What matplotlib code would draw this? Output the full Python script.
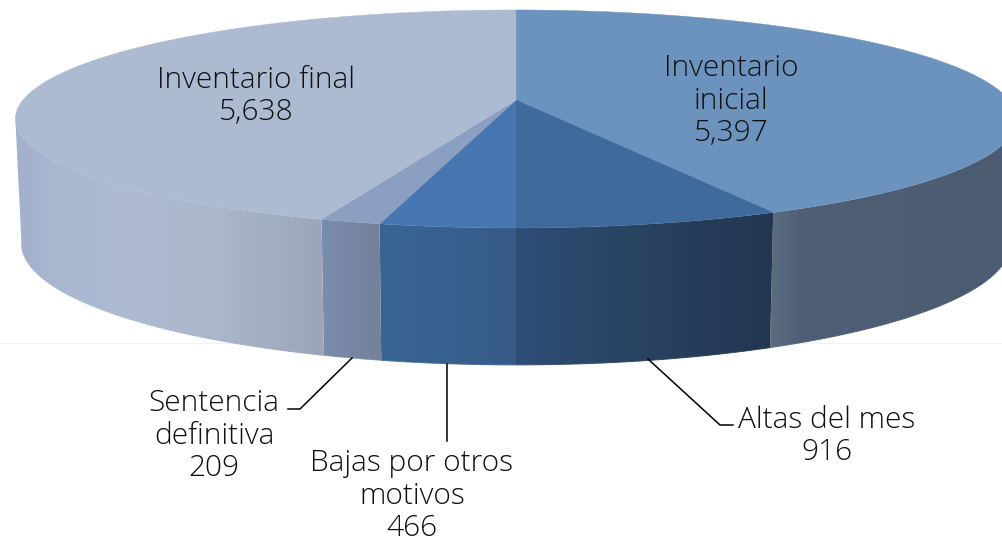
import numpy as np
import matplotlib
matplotlib.use('Agg')
import matplotlib.pyplot as plt
from matplotlib.collections import LineCollection
from matplotlib.colors import to_rgb
from matplotlib.patches import Polygon

categories = ['Inventario inicial', 'Altas del mes', 'Bajas por otros motivos',
              'Sentencia definitiva', 'Inventario final']
values = [5397, 916, 466, 209, 5638]

top_colors = ['#6C93BD', '#3F6A9C', '#4776B0', '#8A9FC1', '#ACBAD2']
# colour stops along x for the side of each slice
side_stops = [
    ([773, 800, 1003], ['#5B6C80', '#4F5F76', '#4B5B72']),
    ([516, 650, 773], ['#2F4E76', '#28425F', '#233650']),
    ([380, 516], ['#3A6593', '#375B89']),
    ([322, 380], ['#7A8DAD', '#748299']),
    ([22, 60, 130, 220, 320], ['#A3B1CC', '#A9B7D1', '#AEBBD3', '#A9B6CB', '#9BA6B8']),
]

# perspective of the disc, in pixels
cx = 516
k = 0.174
top_r, top_s, top_cy = 493, 105.7, 100
bot_r, bot_s, bot_cy = 487, 118, 222


def project(theta, r, s, cy):
    d = 1 + k * np.cos(theta)
    return cx + r * np.sin(theta) / d, cy - s * np.cos(theta) / d


def side_colour(x, stops):
    xs, cols = stops
    rgb = np.array([to_rgb(c) for c in cols])
    return np.stack([np.interp(x, xs, rgb[:, i]) for i in range(3)], axis=-1)


fig = plt.figure(figsize=(10.03, 5.42), dpi=100)
ax = fig.add_axes([0, 0, 1, 1])
ax.axis('off')

# faint line behind the pie
ax.plot([0, 1003], [343, 343], color='#F3F3F3', lw=0.8, zorder=0)

edges = np.cumsum([0] + values) / sum(values) * 2 * np.pi

# side walls, only up to where the outline of the disc turns back
for i in range(len(values)):
    a = max(edges[i], np.radians(100))
    b = min(edges[i + 1], np.radians(260))
    ts = np.linspace(a, b, 150)
    tx, ty = project(ts, top_r, top_s, top_cy)
    bx, by = project(ts, bot_r, bot_s, bot_cy)
    wall = Polygon(np.c_[np.r_[tx, bx[::-1]], np.r_[ty, by[::-1]]], closed=True,
                   fc='none', ec='none', transform=ax.transData)
    ax.add_patch(wall)
    x0, x1 = int(min(tx.min(), bx.min())) - 1, int(max(tx.max(), bx.max())) + 2
    grad = side_colour(np.arange(x0, x1) + 0.5, side_stops[i])[np.newaxis, :, :]
    y0, y1 = min(ty.min(), by.min()) - 1, max(ty.max(), by.max()) + 1
    im = ax.imshow(grad, extent=(x0, x1, y1, y0), aspect='auto', zorder=2,
                   interpolation='nearest')
    im.set_clip_path(wall)
    # soften the lower edge of the wall
    pts = np.c_[bx, by]
    segs = np.stack([pts[:-1], pts[1:]], axis=1)
    ax.add_collection(LineCollection(segs, colors=side_colour((bx[:-1] + bx[1:]) / 2, side_stops[i]),
                                     linewidths=0.7, zorder=2))

ax.set_xlim(0, 1003)
ax.set_ylim(542, 0)

# top of the disc
for i in range(len(values)):
    ts = np.linspace(edges[i], edges[i + 1], 200)
    xs, ys = project(ts, top_r, top_s, top_cy)
    ax.fill(np.r_[cx, xs], np.r_[top_cy, ys], color=top_colors[i], lw=0.3, zorder=3)

# leader lines
ax.plot([352, 300, 288], [358, 409, 409], color='black', lw=1.1, zorder=4)
ax.plot([447.5, 447.5], [364, 441], color='black', lw=1.1, zorder=4)
ax.plot([648, 720, 733], [359, 425, 425], color='black', lw=1.1, zorder=4)

labels = ['Inventario\ninicial', 'Altas del mes', 'Bajas por otros\nmotivos',
          'Sentencia\ndefinitiva', 'Inventario final']
label_pos = [(731, 101), (827, 436), (412, 496), (214, 436), (256, 96)]
for name, v, (lx, ly) in zip(labels, values, label_pos):
    ax.text(lx, ly, f'{name}\n{v:,}', ha='center', va='center', fontsize=21.5,
            family='Open Sans', weight='light', color='#111111', linespacing=1.13, zorder=5)

fig.savefig('out.png', dpi=100)
